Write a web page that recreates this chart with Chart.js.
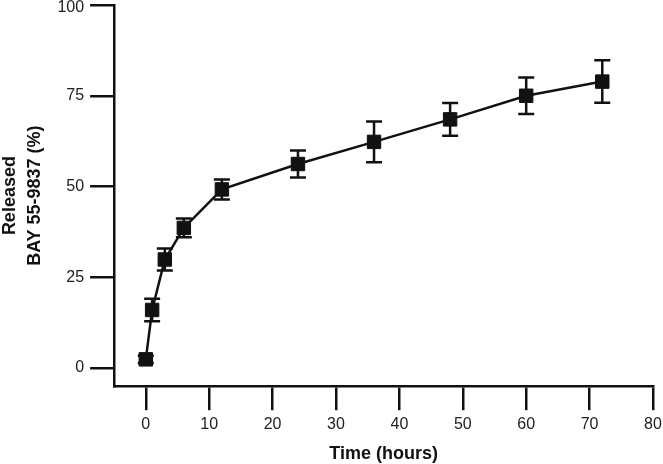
<!DOCTYPE html>
<html>
<head>
<meta charset="utf-8">
<script src="https://cdn.jsdelivr.net/npm/chart.js@4"></script>
<style>
  html, body { margin: 0; padding: 0; background: #fff; }
  #wrap { width: 663px; height: 464px; position: relative; }
</style>
</head>
<body>
<div id="wrap"><canvas id="c"></canvas></div>
<script>
// Data
const timeHours = [0, 1, 3, 6, 12, 24, 36, 48, 60, 72];
const releasedPct = [2.4, 16.0, 29.9, 38.6, 49.2, 56.2, 62.3, 68.5, 75.0, 78.9];
const errorPct = [1.0, 3.1, 3.0, 2.6, 2.75, 3.7, 5.6, 4.5, 5.0, 5.85];
const xTicks = [0, 10, 20, 30, 40, 50, 60, 70, 80];
const yTicks = [0, 25, 50, 75, 100];
const yMaxTick = yTicks[yTicks.length - 1];

const FONT = "'Liberation Sans', Arial, Helvetica, sans-serif";
const INK = '#111';

const errorBarPlugin = {
  id: 'errorBars',
  beforeDatasetsDraw(chart) {
    const ctx = chart.ctx;
    const xs = chart.scales.x, ys = chart.scales.y;
    ctx.save();
    ctx.strokeStyle = INK;
    ctx.lineWidth = 2.5;
    const cap = 8;
    for (let i = 0; i < timeHours.length; i++) {
      const px = xs.getPixelForValue(timeHours[i]);
      const top = ys.getPixelForValue(releasedPct[i] + errorPct[i]);
      const bot = ys.getPixelForValue(releasedPct[i] - errorPct[i]);
      ctx.beginPath();
      ctx.moveTo(px, top); ctx.lineTo(px, bot);
      ctx.moveTo(px - cap, top); ctx.lineTo(px + cap, top);
      ctx.moveTo(px - cap, bot); ctx.lineTo(px + cap, bot);
      ctx.stroke();
    }
    ctx.restore();
  }
};

new Chart(document.getElementById('c'), {
  type: 'line',
  data: {
    datasets: [{
      data: timeHours.map((t, i) => ({ x: t, y: releasedPct[i] })),
      borderColor: INK,
      borderWidth: 2.5,
      pointStyle: 'rect',
      pointRadius: 9.5,
      pointBackgroundColor: INK,
      pointBorderColor: INK,
      pointBorderWidth: 1,
      tension: 0,
      clip: false
    }]
  },
  options: {
    responsive: true,
    maintainAspectRatio: false,
    animation: false,
    devicePixelRatio: 1,
    layout: { autoPadding: false, padding: { top: 5, right: 0, left: 0, bottom: 0 } },
    plugins: { legend: { display: false }, tooltip: { enabled: false } },
    scales: {
      x: {
        type: 'linear',
        min: -5,
        max: 80,
        afterBuildTicks: s => { s.ticks = xTicks.map(v => ({ value: v })); },
        afterFit: s => { s.paddingRight = 10; s.paddingLeft = 0; },
        grid: { display: true, drawOnChartArea: false, drawTicks: true, tickLength: 24, color: INK, lineWidth: 2.5 },
        border: { display: true, color: INK, width: 2.5 },
        ticks: { color: '#222', font: { family: FONT, size: 16 }, padding: 5, maxRotation: 0 },
        title: { display: true, text: 'Time (hours)', color: INK, font: { family: FONT, size: 18, weight: 'bold' }, padding: { top: 4, bottom: -1 } }
      },
      y: {
        type: 'linear',
        min: -5,
        max: 100,
        afterBuildTicks: s => { s.ticks = yTicks.map(v => ({ value: v })); },
        afterFit: s => { s.paddingTop = 0; s.paddingBottom = 0; },
        grid: { display: true, drawOnChartArea: false, drawTicks: true, tickLength: 24, color: INK, lineWidth: 2.5 },
        border: { display: true, color: INK, width: 2.5 },
        ticks: {
          color: '#222',
          padding: 6,
          callback: v => (v === yMaxTick ? ['', String(v)] : String(v)),
          font: c => ({ family: FONT, size: 16, lineHeight: (c.tick && c.tick.value === yMaxTick) ? '5px' : 1.2 })
        },
        title: { display: true, text: ['Released', 'BAY 55-9837 (%)'], color: INK, font: { family: FONT, size: 18, weight: 'bold', lineHeight: 1.4 }, padding: { top: -3, bottom: 4 } }
      }
    }
  },
  plugins: [errorBarPlugin]
});
</script>
</body>
</html>
